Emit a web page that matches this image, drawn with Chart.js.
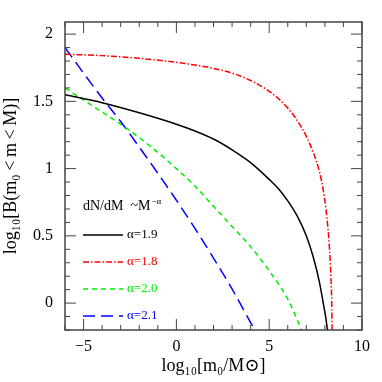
<!DOCTYPE html>
<html>
<head>
<meta charset="utf-8">
<style>
  html, body { margin: 0; padding: 0; background: #fff; }
  .chart-container { width: 382px; height: 382px; }
</style>
</head>
<body>
<div class="chart-container">
    <canvas id="bChart" width="382" height="382"></canvas>
</div>

<script src="https://cdn.jsdelivr.net/npm/chart.js"></script>
<script>
    // values: log10 m0 -> log10 B
    const xBlack = [-6, -4, -2, 0, 1, 2, 3, 4, 5, 5.5, 6, 6.5, 7, 7.4, 7.7, 7.9, 8.05, 8.14];
    const yBlack = [1.55, 1.49, 1.415, 1.33, 1.28, 1.22, 1.14, 1.045, 0.92, 0.85, 0.76, 0.65, 0.50, 0.33, 0.16, 0.01, -0.11, -0.2];

    const xRed = [-6, -4, -2, 0, 1, 2, 3, 4, 5, 5.5, 6, 6.5, 7, 7.4, 7.7, 7.9, 8.05, 8.17, 8.26, 8.33, 8.37, 8.39];
    const yRed = [1.85, 1.84, 1.82, 1.79, 1.77, 1.745, 1.71, 1.655, 1.575, 1.52, 1.45, 1.36, 1.24, 1.11, 0.98, 0.85, 0.71, 0.55, 0.38, 0.18, 0.0, -0.2];

    const xGreen = [-6, -5, -4, -3, -2, -1, 0, 1, 2, 3, 4, 5, 6, 6.75];
    const yGreen = [1.60, 1.51, 1.42, 1.33, 1.23, 1.12, 1.0, 0.87, 0.72, 0.57, 0.42, 0.24, 0.03, -0.2];

    const xBlue = [-6, -5, -4, -3, -2, -1, 0, 1, 2, 3, 4, 4.22];
    const yBlue = [1.90, 1.71, 1.525, 1.35, 1.16, 0.965, 0.765, 0.555, 0.335, 0.105, -0.145, -0.2];

    const alphaLabels = ['α=1.9', 'α=1.8', 'α=2.0', 'α=2.1'];
    const lineColors = ['#000000', '#ff0000', '#00ee00', '#0000ff'];
    const lineDashes = [[], [6, 2, 1.5, 2], [5, 4], [12, 6]];

    const xTicks = [-5, 0, 5, 10];
    const yTicks = [0, 0.5, 1, 1.5, 2];

    const SERIF = '"Liberation Serif", "DejaVu Serif", serif';

    function pts(xs, ys) {
        return xs.map((x, i) => ({ x: x, y: ys[i] }));
    }

    const series = [pts(xBlack, yBlack), pts(xRed, yRed), pts(xGreen, yGreen), pts(xBlue, yBlue)];

    // frame, inward ticks on all four sides, and the in-plot key
    const framePlugin = {
        id: 'frame',
        afterDraw(chart) {
            const ctx = chart.ctx;
            const a = chart.chartArea;
            const xs = chart.scales.x, ys = chart.scales.y;
            ctx.save();
            ctx.strokeStyle = '#444';
            ctx.lineWidth = 1.5;
            ctx.strokeRect(a.left, a.top, a.right - a.left, a.bottom - a.top);

            ctx.lineWidth = 1;
            ctx.beginPath();
            for (let v = -6; v <= 10; v += 1) {
                const p = xs.getPixelForValue(v);
                const len = (v % 5 === 0) ? 11 : 5;
                ctx.moveTo(p, a.bottom); ctx.lineTo(p, a.bottom - len);
                ctx.moveTo(p, a.top); ctx.lineTo(p, a.top + len);
            }
            for (let k = -2; k <= 20; k++) {
                const v = k / 10;
                const p = ys.getPixelForValue(v);
                const len = (k % 5 === 0) ? 11 : 5;
                ctx.moveTo(a.left, p); ctx.lineTo(a.left + len, p);
                ctx.moveTo(a.right, p); ctx.lineTo(a.right - len, p);
            }
            ctx.stroke();

            // key
            const kx = a.left + 18;
            ctx.fillStyle = '#000';
            ctx.textBaseline = 'middle';
            ctx.font = '14px ' + SERIF;
            ctx.fillText('dN/dM  ~M', kx, a.top + 184);
            const w = ctx.measureText('dN/dM  ~M').width;
            ctx.font = '9px ' + SERIF;
            ctx.fillText('−α', kx + w + 1, a.top + 180);

            for (let i = 0; i < alphaLabels.length; i++) {
                const y = a.top + 213 + i * 27;
                ctx.strokeStyle = lineColors[i];
                ctx.lineWidth = 1.5;
                ctx.setLineDash(lineDashes[i]);
                ctx.beginPath();
                ctx.moveTo(kx, y); ctx.lineTo(kx + 40, y);
                ctx.stroke();
                ctx.setLineDash([]);
                ctx.fillStyle = lineColors[i];
                ctx.font = '13px ' + SERIF;
                ctx.fillText(alphaLabels[i], kx + 44, y);
            }
            ctx.restore();
        }
    };

    new Chart(document.getElementById('bChart').getContext('2d'), {
        type: 'line',
        data: {
            datasets: series.map((d, i) => ({
                label: alphaLabels[i],
                data: d,
                borderColor: lineColors[i],
                borderWidth: 1.5,
                borderDash: lineDashes[i],
                pointRadius: 0,
                fill: false,
                cubicInterpolationMode: 'monotone'
            }))
        },
        options: {
            responsive: false,
            animation: false,
            layout: { padding: { top: 22, right: 20, left: 0, bottom: 5 } },
            plugins: {
                legend: { display: false },
                tooltip: { enabled: false }
            },
            scales: {
                x: {
                    type: 'linear',
                    min: -6,
                    max: 10,
                    afterFit: s => { s.height = 47; },
                    afterBuildTicks: s => { s.ticks = xTicks.map(v => ({ value: v })); },
                    grid: { display: false, drawTicks: false },
                    border: { display: false },
                    ticks: {
                        padding: 7,
                        color: '#000',
                        font: { family: SERIF, size: 16 },
                        callback: v => String(v).replace('-', '−')
                    },
                    title: {
                        display: true,
                        text: 'log₁₀[m₀/M⊙]',
                        color: '#000',
                        padding: { top: 0, bottom: 0 },
                        font: { family: SERIF, size: 18 }
                    }
                },
                y: {
                    min: -0.2,
                    max: 2.09,
                    afterFit: s => { s.width = 65; },
                    afterBuildTicks: s => { s.ticks = yTicks.map(v => ({ value: v })); },
                    grid: { display: false, drawTicks: false },
                    border: { display: false },
                    ticks: {
                        padding: 12,
                        color: '#000',
                        font: { family: SERIF, size: 16 },
                        callback: v => String(v)
                    },
                    title: {
                        display: true,
                        text: 'log₁₀[B(m₀\u2009<\u2009m\u2009<\u2009M)]',
                        color: '#000',
                        padding: { top: 0, bottom: 0 },
                        font: { family: SERIF, size: 18 }
                    }
                }
            }
        },
        plugins: [framePlugin]
    });
</script>
</body>
</html>
